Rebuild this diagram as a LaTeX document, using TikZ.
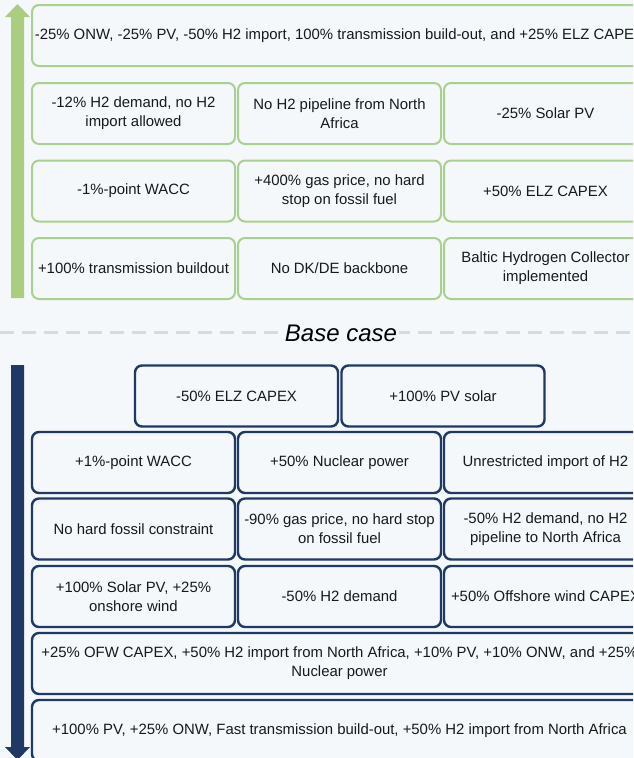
\documentclass[tikz,border=0pt]{standalone}
\usepackage{fontspec}
\setmainfont{Liberation Sans}
\definecolor{bg}{HTML}{F4F8FB}
\definecolor{gline}{HTML}{A9D08E}
\definecolor{garrow}{HTML}{AACD80}
\definecolor{navy}{HTML}{1F3864}
\definecolor{dashgrey}{HTML}{DADADA}
\begin{document}
\begin{tikzpicture}[x=1pt,y=-1pt,
  box/.style={rectangle, rounded corners=7pt, minimum width=203pt, minimum height=61pt,
    align=center, fill=bg, inner sep=2pt, font=\fontsize{14.9}{19}\selectfont, text=black!90},
  gbox/.style={box, draw=gline, line width=2pt},
  nbox/.style={box, draw=navy, line width=2.4pt},
  wide/.style={minimum width=615pt}]
\useasboundingbox (0,0) rectangle (633,758);
\clip (0,0) rectangle (633,758);
\fill[bg] (0,0) rectangle (633,758);

% green arrow (up)
\fill[garrow] (11,298) -- (11,17) -- (5,17) -- (17.5,4) -- (30,17) -- (24,17) -- (24,298) -- cycle;

% top section
\node[gbox, wide] (t1) at (339.5,35.5) {-25\% ONW, -25\% PV, -50\% H2 import, 100\% transmission build-out, and +25\% ELZ CAPEX};
\node[gbox] (t21) at (133.5,113.5) {-12\% H2 demand, no H2\\import allowed};
\node[gbox] (t22) at (339.5,113.5) {No H2 pipeline from North\\Africa};
\node[gbox] (t23) at (545.5,113.5) {-25\% Solar PV};
\node[gbox] (t31) at (133.5,191) {-1\%-point WACC};
\node[gbox] (t32) at (339.5,191) {+400\% gas price, no hard\\stop on fossil fuel};
\node[gbox] (t33) at (545.5,191) {+50\% ELZ CAPEX};
\node[gbox] (t41) at (133.5,268.5) {+100\% transmission buildout};
\node[gbox] (t42) at (339.5,268.5) {No DK/DE backbone};
\node[gbox] (t43) at (545.5,268.5) {Baltic Hydrogen Collector\\implemented};

% base case line
\draw[dashgrey, line width=3pt, dash pattern=on 14pt off 8pt] (0,332) -- (633,332);
\node[fill=bg, inner xsep=2pt, inner ysep=1pt, font=\itshape\fontsize{24}{28}\selectfont] (base) at (341,333) {Base case};

% navy arrow (down)
\fill[navy] (11,365) -- (11,747) -- (5,747) -- (17.5,760) -- (30,747) -- (24,747) -- (24,365) -- cycle;

% bottom section
\node[nbox] (bA1) at (236.5,396) {-50\% ELZ CAPEX};
\node[nbox] (bA2) at (443,396) {+100\% PV solar};
\node[nbox] (bB1) at (133.5,462.5) {+1\%-point WACC};
\node[nbox] (bB2) at (339.5,462.5) {+50\% Nuclear power};
\node[nbox] (bB3) at (545.5,462.5) {Unrestricted import of H2};
\node[nbox] (bC1) at (133.5,529) {No hard fossil constraint};
\node[nbox] (bC2) at (339.5,529) {-90\% gas price, no hard stop\\on fossil fuel};
\node[nbox] (bC3) at (545.5,529) {-50\% H2 demand, no H2\\pipeline to North Africa};
\node[nbox] (bD1) at (133.5,596.5) {+100\% Solar PV, +25\%\\onshore wind};
\node[nbox] (bD2) at (339.5,596.5) {-50\% H2 demand};
\node[nbox] (bD3) at (545.5,596.5) {+50\% Offshore wind CAPEX};
\node[nbox, wide] (bE) at (339.5,663.5) {+25\% OFW CAPEX, +50\% H2 import from North Africa, +10\% PV, +10\% ONW, and +25\%\\Nuclear power};
\node[nbox, wide] (bF) at (339.5,730.5) {+100\% PV, +25\% ONW, Fast transmission build-out, +50\% H2 import from North Africa};
\end{tikzpicture}
\end{document}
